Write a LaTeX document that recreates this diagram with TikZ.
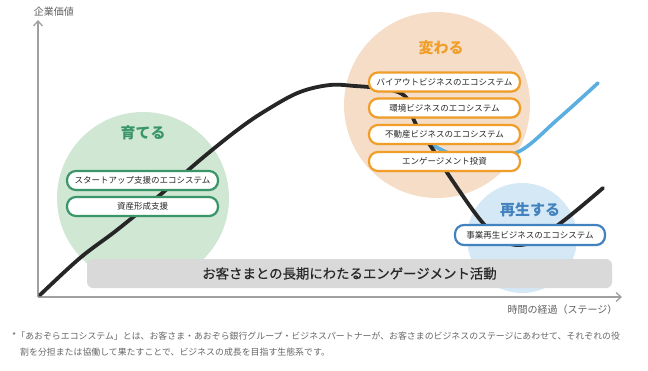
\documentclass[tikz,border=0pt]{standalone}
\usepackage{fontspec}
\setmainfont{Noto Sans CJK JP}
\newfontfamily\jpheavy[FakeBold=0.6]{Noto Sans CJK JP}
\usepackage{xcolor}
\usepackage{tikz}
\usetikzlibrary{arrows.meta, shadows}
\definecolor{growgreen}{RGB}{58, 150, 104}
\definecolor{growbg}{RGB}{208, 231, 212}
\definecolor{changeorange}{RGB}{240, 158, 40}
\definecolor{changebg}{RGB}{245, 221, 200}
\definecolor{reviveblue}{RGB}{66, 130, 190}
\definecolor{revivebg}{RGB}{213, 232, 246}
\definecolor{curveblue}{RGB}{90, 175, 224}
\definecolor{axisgray}{RGB}{160, 160, 160}
\definecolor{bandgray}{RGB}{217, 217, 217}
\definecolor{textdark}{RGB}{40, 40, 40}

\tikzset{
    ecobox/.style={draw=#1, fill=white, line width=2.2pt, rounded corners=9pt,
          minimum width=151pt, minimum height=19pt, inner sep=0pt,
          font=\fontsize{8.5}{10}\selectfont, text=textdark,
          drop shadow={opacity=0.25, shadow xshift=0.8pt, shadow yshift=-1.2pt}},
    stagetitle/.style={font=\fontsize{15}{17}\selectfont\bfseries, text=#1},
    axislabel/.style={font=\fontsize{10}{12}\selectfont, text=gray!75!black}
}

\begin{document}
\begin{tikzpicture}[x=1pt, y=-1pt]
    \useasboundingbox (0,0) rectangle (648,370);

    % stage circles
    \fill[growbg] (143,198) circle (86pt);
    \fill[changebg] (437,105) circle (93pt);
    \fill[revivebg] (522,238) circle (55pt);

    % engagement band
    \node[fill=bandgray, rounded corners=6pt, minimum width=525pt, minimum height=29pt,
          font=\jpheavy\fontsize{13.4}{15}\selectfont, text=textdark] (band) at (349.5,273.5)
          {お客さまとの長期にわたるエンゲージメント活動};

    % axes
    \coordinate (origin) at (38,297);
    \coordinate (ytop) at (38,20);
    \coordinate (xend) at (622,297);
    \draw[axisgray, line width=1.3pt, -{Straight Barb[length=5pt, width=9pt]}] (origin) -- (ytop);
    \draw[axisgray, line width=1.3pt, -{Straight Barb[length=5pt, width=9pt]}] (origin) -- (xend);
    \node[axislabel] (yname) at (54,12) {企業価値};
    \node[axislabel, anchor=east] (xname) at (621,310) {時間の経過（ステージ）};

    % value curves
    \draw[curveblue, line width=3.6pt, line cap=round] plot[smooth, tension=0.6] coordinates {
        (418,128) (436,147) (475,160) (518,152) (558,119) (598,83)};
    \draw[black!85, line width=3.8pt, line cap=round] plot[smooth, tension=0.6] coordinates {
        (40,295) (80,258) (117,230) (160,195) (200,160) (240,128) (270,108) (300,92)
        (330,85) (355,86) (378,88) (398,92) (408,100) (412,115) (418,128) (432,148)
        (450,177) (482,222) (505,242) (530,243) (562,222) (603,188)};

    % grow
    \node[stagetitle=growgreen] (growtitle) at (143,133) {育てる};
    \node[ecobox=growgreen] (startup) at (142.5,180.5) {スタートアップ支援のエコシステム};
    \node[ecobox=growgreen] (asset) at (142.5,206.5) {資産形成支援};

    % change
    \node[stagetitle=changeorange] (changetitle) at (441,48) {変わる};
    \node[ecobox=changeorange] (buyout) at (444.5,82) {バイアウトビジネスのエコシステム};
    \node[ecobox=changeorange] (environment) at (444.5,108) {環境ビジネスのエコシステム};
    \node[ecobox=changeorange] (realestate) at (444.5,134.5) {不動産ビジネスのエコシステム};
    \node[ecobox=changeorange] (engage) at (444.5,161.5) {エンゲージメント投資};

    % revive
    \node[stagetitle=reviveblue] (revivetitle) at (530,210) {再生する};
    \node[ecobox=reviveblue, minimum width=150pt, minimum height=20pt] (revive) at (530,235)
          {事業再生ビジネスのエコシステム};

    % footnote
    \node[anchor=north west, align=left, inner sep=0pt, font=\fontsize{8.9}{16}\selectfont,
          text=gray!80!black] (note) at (12,332)
          {*「あおぞらエコシステム」とは、お客さま・あおぞら銀行グループ・ビジネスパートナーが、お客さまのビジネスのステージにあわせて、それぞれの役\\
          \hspace*{8pt}割を分担または協働して果たすことで、ビジネスの成長を目指す生態系です。};
\end{tikzpicture}
\end{document}
